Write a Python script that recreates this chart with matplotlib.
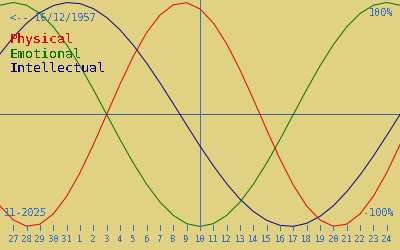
import matplotlib
matplotlib.use('Agg')
import matplotlib.pyplot as plt

# --- Data: percent, one value per day from 26/10 to 25/11 ---
physical = [-81.7, -94.2, -99.8, -97.9, -88.8, -73.1, -52.0, -27.0, 0.0, 27.0,
            52.0, 73.1, 88.8, 97.9, 99.8, 94.2, 81.7, 63.1, 39.8, 13.6,
            -13.6, -39.8, -63.1, -81.7, -94.2, -99.8, -97.9, -88.8, -73.1, -52.0,
            -27.0]
emotional = [97.5, 100.0, 97.5, 90.1, 78.2, 62.3, 43.4, 22.3, 0.0, -22.3,
             -43.4, -62.3, -78.2, -90.1, -97.5, -100.0, -97.5, -90.1, -78.2, -62.3,
             -43.4, -22.3, 0.0, 22.3, 43.4, 62.3, 78.2, 90.1, 97.5, 100.0,
             97.5]
intellectual = [54.1, 69.0, 81.5, 91.0, 97.2, 99.9, 99.0, 94.5, 86.6, 75.6,
                61.8, 45.8, 28.2, 9.5, -9.5, -28.2, -45.8, -61.8, -75.6, -86.6,
                -94.5, -99.0, -99.9, -97.2, -91.0, -81.5, -69.0, -54.1, -37.2, -18.9,
                0.0]
day_labels = ['27', '28', '29', '30', '31'] + [str(n) for n in range(1, 25)]
today_label = '10'
birth_text = '<-- 16/12/1957'
month_text = '11-2025'

# --- Style ---
BG = '#e1d283'
BLUE = '#3a72c4'
MONO = 'DejaVu Sans Mono'
W, H = 400, 250
LW = 0.7    # about one pixel

plt.rcParams['text.antialiased'] = False


def px(x, y):
    # pixel position (from top-left) -> figure fraction
    return x / W, 1 - y / H


fig = plt.figure(figsize=(4, 2.5), dpi=100)
fig.patch.set_facecolor(BG)
ax = fig.add_axes([0, 0, 1, 1])
ax.axis('off')
ax.set_xlim(0, 30)
ax.set_ylim(-121.0, 102.2)

days = list(range(len(physical)))
tick_pos = [i + 1 for i in range(len(day_labels))]
today = tick_pos[day_labels.index(today_label)]

ax.axhline(0, color='#3a64a0', lw=LW, antialiased=False)
ax.vlines(today, -100.5, 102.2, color=BLUE, lw=LW, antialiased=False)

ax.plot(days, emotional, color='#007000', lw=LW)
ax.plot(days, intellectual, color='#000080', lw=LW)
ax.plot(days, physical, color='#e00000', lw=LW)

ax.vlines(tick_pos, -103.1, -98.7, color=BLUE, lw=LW, antialiased=False)
for p, lab in zip(tick_pos, day_labels):
    ax.text(p, -113.5, lab, ha='center', va='baseline', fontsize=6.5,
            family=MONO, color=BLUE)

fig.text(*px(10, 20.7), birth_text, fontsize=7.3, family=MONO, color=BLUE, va='baseline')
fig.text(*px(393, 15.7), '100%', fontsize=7.3, family=MONO, color=BLUE, va='baseline', ha='right')
fig.text(*px(394, 215.7), '-100%', fontsize=7.3, family=MONO, color=BLUE, va='baseline', ha='right')
fig.text(*px(4, 215.7), month_text, fontsize=7.3, family=MONO, color=BLUE, va='baseline')

fig.text(*px(10, 43), 'Physical', fontsize=9.6, family=MONO, color='#e00000', va='baseline')
fig.text(*px(10, 58), 'Emotional', fontsize=9.6, family=MONO, color='#007000', va='baseline')
fig.text(*px(10, 72.5), 'Intellectual', fontsize=9.6, family=MONO, color='#000080', va='baseline')

fig.savefig('out.png', dpi=100, facecolor=BG)
plt.close(fig)
